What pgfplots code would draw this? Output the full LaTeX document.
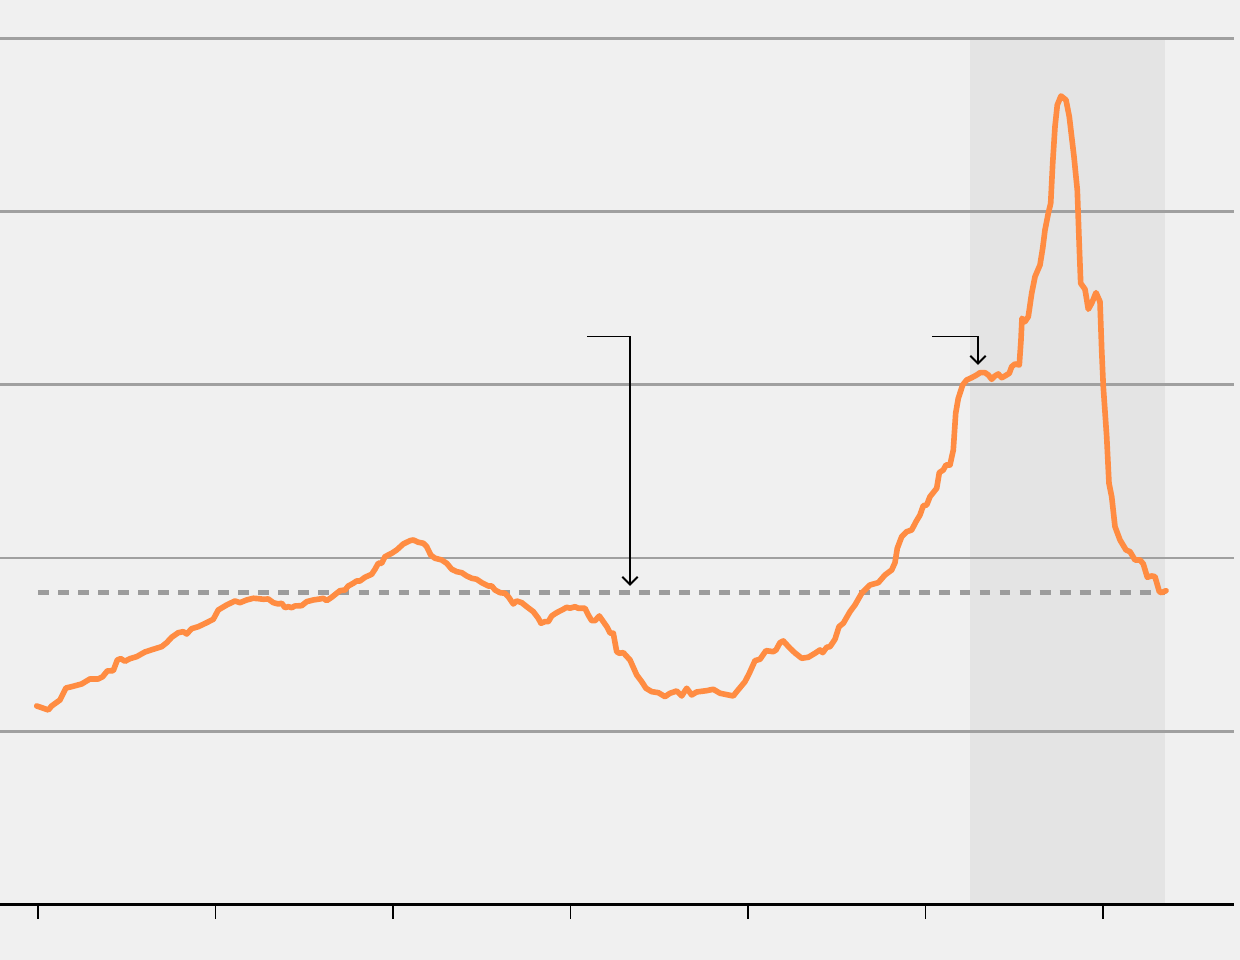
\documentclass[border=0pt]{standalone}
\usepackage{pgfplots}
\pgfplotsset{compat=1.18}
\usetikzlibrary{arrows.meta}
\definecolor{bg}{HTML}{F0F0F0}
\definecolor{shadec}{HTML}{E4E4E4}
\definecolor{gridc}{HTML}{A0A0A0}
\definecolor{dashc}{HTML}{9C9C9C}
\definecolor{linec}{HTML}{FF8C42}
\begin{document}
\begin{tikzpicture}
\begin{axis}[
  width=12.4cm, height=9.6cm, scale only axis,
  xmin=0, xmax=1240, ymin=0, ymax=960, y dir=reverse,
  hide axis, clip=true,
]
% background and shaded period
\fill[bg] (axis cs:0,0) rectangle (axis cs:1240,960);
\fill[shadec] (axis cs:970,39) rectangle (axis cs:1165,904);
% grid lines
\foreach \g in {38.5,211.5,384.5,558,731.5}{
  \edef\tmp{\noexpand\draw[gridc, line width=0.65pt] (axis cs:0,\g) -- (axis cs:1234,\g);}\tmp
}
% baseline and ticks
\draw[black, line width=0.7pt] (axis cs:0,904.5) -- (axis cs:1234,904.5);
\foreach \t in {38,215.5,393,570.5,748,925.5,1103}{
  \edef\tmp{\noexpand\draw[black, line width=0.55pt] (axis cs:\t,904.5) -- (axis cs:\t,919);}\tmp
}
% reference (average) line
\addplot[dashc, line width=1.2pt, dash pattern=on 3.1pt off 2.6pt] coordinates {(38,592.5) (1165,592.5)};
% series
\addplot[linec, line width=1.6pt, line join=round, line cap=round] coordinates {
(36.7,706) (48.3,710) (51.7,706) (60,700) (66,688) (71.7,686.7) (81.7,684) (90,679)
(98.3,679) (102.7,676.7) (107.3,671) (113.3,670.7) (117.3,660) (120.7,658.7) (125,661.3)
(130,658.7) (136.7,656.7) (145,652) (153.3,649.3) (161.7,646.7) (166.7,642.7) (171.7,637.3)
(178.3,632.7) (183.3,631.7) (186.7,634) (191.7,628.7) (198.3,626.7) (206.7,622.7)
(213.3,619.3) (218.3,610) (226.7,605) (235,601) (240,602.7) (246.7,600) (253.3,598.3)
(258.3,598.7) (263.3,599.3) (268.3,599) (273.3,602.7) (278.3,604) (281.7,603.3) (285,607.7)
(288.3,606.7) (291.7,607.7) (295,606) (301.7,605.7) (306.7,601.7) (313.3,600) (320,599)
(323.3,598.3) (326.7,600.7) (331.7,597.3) (336.7,593.3) (340,590.7) (345,590) (348.3,586)
(353.3,583.3) (356.7,581) (360,581) (365,577.3) (371.7,574.3) (375,569.3) (378.3,563.3)
(381.7,563.3) (385,556.7) (391.7,553.3) (396.7,550) (403.3,544) (410,540.7) (413.3,540)
(418.3,542.3) (423.3,543.3) (426.7,546.7) (430.7,555) (435,558.3) (441.7,560) (446.7,563.3)
(451.7,569.3) (456.7,571.7) (461.7,572.7) (466.7,576) (471.7,578.3) (476.7,579.3)
(481.7,582.7) (488.3,586) (491.7,586) (495,590) (500,592.7) (505,593.3) (508.3,596.7)
(513.3,604) (516.7,601) (521.7,602.7) (526.7,606.7) (533.3,611.7) (538.3,618.3) (541,623.3)
(545,621.7) (548.3,621.7) (551.7,616) (556.7,612.7) (563.3,609.3) (566.7,607.3) (570,608.3)
(575,606.7) (578.3,608.3) (585,608.3) (588.3,615) (591.7,620.7) (595,620.7) (599.3,616)
(603.3,621.7) (607,627) (610,633) (613.3,633.3) (616.7,651.7) (619.3,653.3) (623.3,652.7)
(630,660) (636.7,675) (641.7,681.7) (646,688.3) (651.7,691.7) (658.3,692.7) (665,696.7)
(670,693.3) (676.7,691) (681.7,696) (686.7,688.3) (691.7,695) (696.7,692) (706.7,690.7)
(713.3,689.3) (720,693.3) (728.3,695) (733.3,696) (736.7,691.7) (745,681.7) (749.3,673.3)
(755,660.7) (760,659.3) (766,650.7) (773.3,651.7) (776,650) (780,642.7) (783.3,641)
(790,648.3) (795,653) (801.7,658.3) (808.3,657.3) (815,653.3) (820,650) (822.7,652.7)
(826.7,647.3) (830,646.7) (835,639.3) (839,626.7) (843.3,623.3) (850,611.7) (855,605)
(861.7,593.3) (870,585) (878.3,582.7) (885,575) (891.7,570) (895,562.7) (897.3,548.3)
(901.7,536.7) (906.7,531.7) (911.7,530) (916,521.7) (920,515) (923.3,505.7) (926.7,505)
(930,496.7) (936.7,488.3) (939.3,472.7) (943.3,470) (946,465) (950,465) (953.3,450)
(955.7,413.3) (958.3,398.3) (962.7,385) (966.7,380) (971.7,377.7) (976.7,375) (980,372.7)
(985,372.7) (988.3,375) (991.7,379.3) (995,376) (998.3,374) (1001.7,377.7) (1005,376)
(1009.3,373.3) (1011.7,366.7) (1015,364) (1019.3,365) (1021,340) (1022,318.3) (1025,321.7)
(1028.3,316.7) (1031.7,293.3) (1035,276.7) (1040,265) (1042.7,248.3) (1045,230)
(1048.3,213.3) (1050.7,203.3) (1052.7,163.3) (1055,126.7) (1057.3,105) (1061,96) (1066,100)
(1069.3,116.7) (1074,156.7) (1077.3,190) (1079.3,246.7) (1080.7,283.3) (1085,289.3)
(1088.3,309.3) (1091.7,303.3) (1096,292.7) (1100,301.7) (1101.7,350) (1103.3,386.7)
(1106.7,436.7) (1109,483.3) (1111.7,496.7) (1115,526.7) (1120,540) (1126,550) (1130,551.7)
(1135,560) (1140,560) (1143.3,564) (1147.3,577.3) (1151.7,576) (1155,576.7) (1159.3,591.7)
(1161.7,592.7) (1166,590.7)
};
% annotation pointers (text-free)
\draw[black, line width=0.55pt, -{Straight Barb[length=2.2pt,width=4.4pt]}]
  (axis cs:587,336.5) -- (axis cs:630,336.5) -- (axis cs:630,586);
\draw[black, line width=0.55pt, -{Straight Barb[length=2.2pt,width=4.4pt]}]
  (axis cs:932,336.5) -- (axis cs:978,336.5) -- (axis cs:978,365);
\end{axis}
\end{tikzpicture}
\end{document}
